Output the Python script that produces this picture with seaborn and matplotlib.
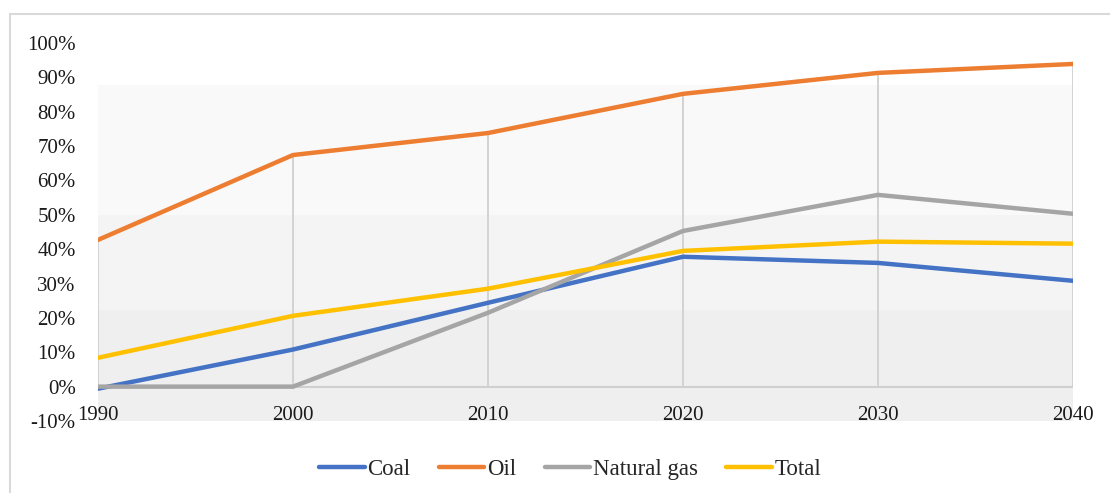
import matplotlib
matplotlib.use("Agg")
import matplotlib.pyplot as plt
import seaborn as sns
import pandas as pd
import numpy as np
from matplotlib.lines import Line2D

years = [1990, 2000, 2010, 2020, 2030, 2040]
coal = [-0.6, 10.8, 24.4, 37.8, 36.0, 30.8]
oil = [42.7, 67.4, 73.8, 85.2, 91.3, 93.9]
natural_gas = [0.0, 0.0, 21.5, 45.3, 55.8, 50.3]
total = [8.4, 20.6, 28.5, 39.5, 42.2, 41.6]
series_names = ["Coal", "Oil", "Natural gas", "Total"]
colors = ["#4472C4", "#ED7D31", "#A5A5A5", "#FFC000"]
y_ticks = [-10, 0, 10, 20, 30, 40, 50, 60, 70, 80, 90, 100]

df = pd.DataFrame({"year": years * 4,
                   "value": coal + oil + natural_gas + total,
                   "series": sum([[n] * len(years) for n in series_names], [])})

sns.set_theme(style="white")
plt.rcParams['font.family'] = ['Liberation Serif', 'DejaVu Serif']

fig = plt.figure(figsize=(11.10, 4.93), dpi=100)
ax = fig.add_axes([98/1110, 1-421/493, (1073-98)/1110, (421-43)/493])

# background bands (3D-style plot area)
band_edges = [-10, 22.4, 50, 87.8]
band_colors = ["#efefef", "#f4f4f4", "#f9f9f9"]
for lo, hi, c in zip(band_edges[:-1], band_edges[1:], band_colors):
    ax.fill_between([years[0], years[-1]], lo, hi, color=c, lw=0, zorder=0)

# axis line at zero and drop lines
ax.plot([years[0], years[-1]], [0, 0], color="#d0d0d0", lw=1.5, zorder=1)
maxvals = np.max(np.array([coal, oil, natural_gas, total]), axis=0)
ax.vlines(years, 0, maxvals, color="#d0d0d0", lw=1.3, zorder=1)

sns.lineplot(data=df, x="year", y="value", hue="series", hue_order=series_names,
             palette=colors, lw=3.2, ax=ax, zorder=3, legend=False)

ax.set_xlim(years[0], years[-1])
ax.set_ylim(-10, 100)
ax.set_xticks(years)
ax.set_xticklabels([str(y) for y in years])
ax.set_yticks(y_ticks)
ax.set_yticklabels([f"{v}%" for v in y_ticks])
ax.tick_params(axis="x", length=0, pad=-10.5, labelsize=15, colors="#1a1a1a")
ax.tick_params(axis="y", length=0, pad=16, labelsize=15, colors="#1a1a1a")
ax.set_xlabel("")
ax.set_ylabel("")
for s in ax.spines.values():
    s.set_visible(False)
ax.set_facecolor("none")

handles = [Line2D([0], [0], color=c, lw=3.2) for c in colors]
fig.legend(handles, series_names, loc="center", bbox_to_anchor=(0.5135, 0.047),
           ncol=4, frameon=False, fontsize=16.5, handlelength=2.0,
           handletextpad=0.1, columnspacing=1.25)

# chart border
fig.add_artist(Line2D([10/1110, 10/1110], [0, 1-14/493], color="#d9d9d9", lw=1.5,
                      transform=fig.transFigure))
fig.add_artist(Line2D([10/1110, 1], [1-14/493, 1-14/493], color="#d9d9d9", lw=1.5,
                      transform=fig.transFigure))

fig.savefig("out.png", dpi=100)
